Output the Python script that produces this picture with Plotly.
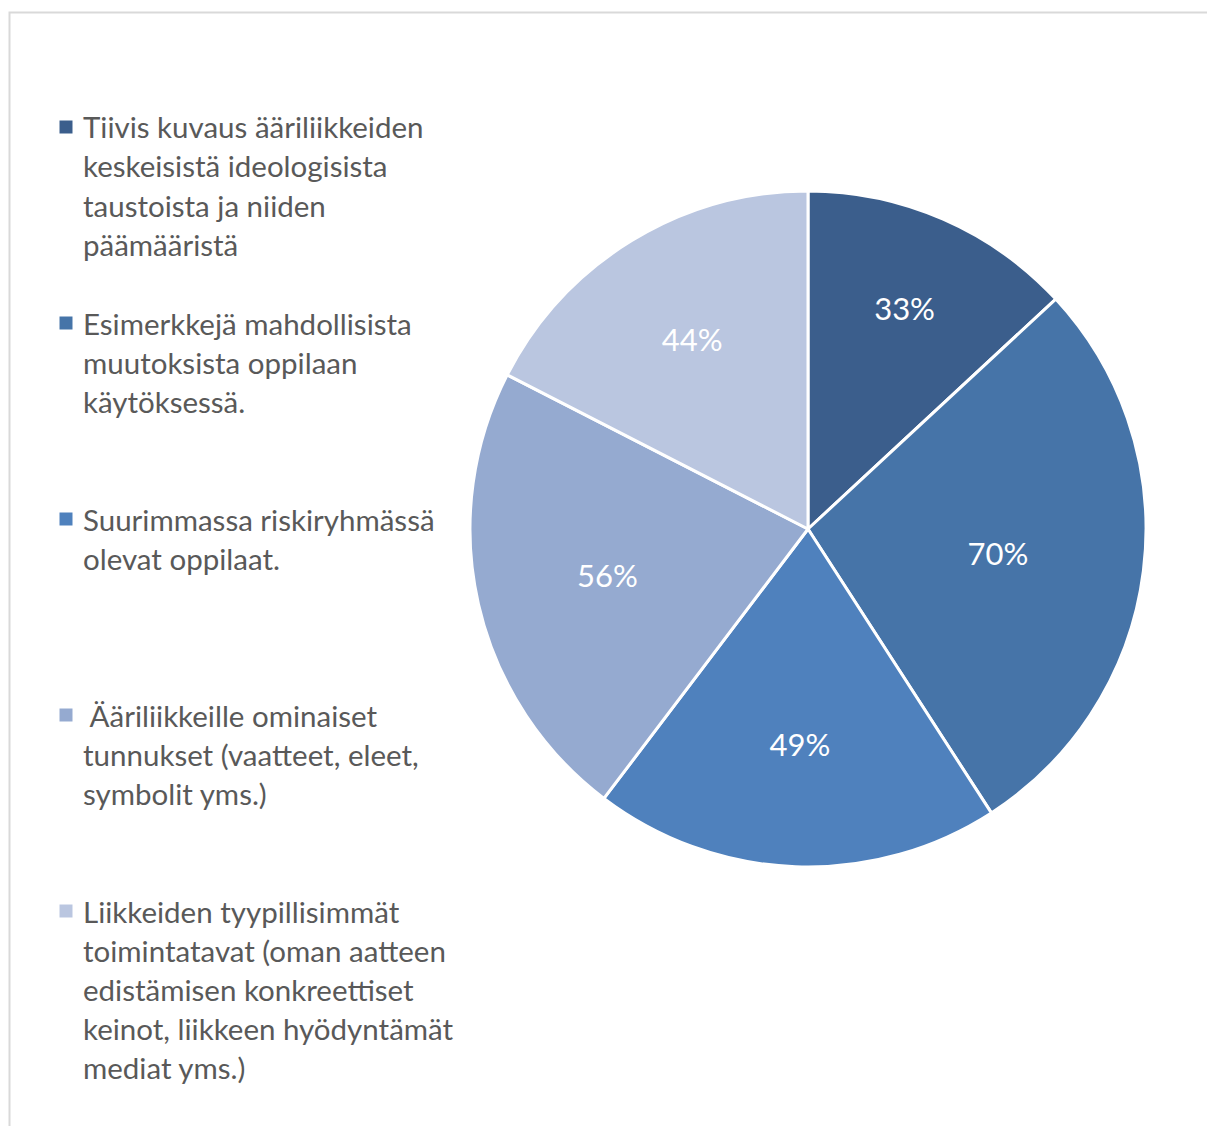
import plotly.graph_objects as go

# Chart data
categories = [
    "Tiivis kuvaus ääriliikkeiden<br>keskeisistä ideologisista<br>taustoista ja niiden<br>päämääristä",
    "Esimerkkejä mahdollisista<br>muutoksista oppilaan<br>käytöksessä.",
    "Suurimmassa riskiryhmässä<br>olevat oppilaat.",
    "\u00a0Ääriliikkeille ominaiset<br>tunnukset (vaatteet, eleet,<br>symbolit yms.)",
    "Liikkeiden tyypillisimmät<br>toimintatavat (oman aatteen<br>edistämisen konkreettiset<br>keinot, liikkeen hyödyntämät<br>mediat yms.)",
]
values = [33, 70, 49, 56, 44]
colors = ["#3B5E8C", "#4674A8", "#4F81BD", "#95AAD0", "#BAC6E0"]

W, H = 1207, 1126
FONT = "Lato"
TEXT_COLOR = "#595959"

fig = go.Figure()

fig.add_trace(go.Pie(
    labels=[c.replace("<br>", " ") for c in categories],
    values=values,
    text=[f"{v}%" for v in values],
    textinfo="text",
    textposition="inside",
    insidetextorientation="horizontal",
    textfont=dict(family=FONT, size=31, color="white"),
    sort=False,
    direction="clockwise",
    rotation=0,
    marker=dict(colors=colors, line=dict(color="white", width=3)),
    domain=dict(x=[470 / W, 1146 / W], y=[1 - 867 / H, 1 - 191 / H]),
    hoverinfo="label+text",
    showlegend=False,
))

# Legend drawn by hand: items evenly spaced, 39px line spacing
shapes = []
annotations = []
item_top, item_step, line_step = 127, 196, 39
for i, (cat, col) in enumerate(zip(categories, colors)):
    y0 = item_top + i * item_step
    shapes.append(dict(
        type="rect", xref="paper", yref="paper",
        x0=59.5 / W, x1=72.5 / W,
        y0=1 - (y0 + 6.5) / H, y1=1 - (y0 - 6.5) / H,
        fillcolor=col, line=dict(width=0),
    ))
    for k, line in enumerate(cat.split("<br>")):
        annotations.append(dict(
            x=81 / W, y=1 - (y0 + k * line_step) / H,
            xref="paper", yref="paper",
            xanchor="left", yanchor="middle",
            text=line, showarrow=False,
            font=dict(family=FONT, size=29.5, color=TEXT_COLOR),
        ))

# chart border (cut off at right and bottom)
shapes.append(dict(
    type="rect", xref="paper", yref="paper",
    x0=9.5 / W, x1=1.02, y0=-0.02, y1=1 - 12.5 / H,
    line=dict(color="#D9D9D9", width=2), layer="below",
))

fig.update_layout(
    width=W, height=H,
    margin=dict(l=0, r=0, t=0, b=0),
    paper_bgcolor="white",
    plot_bgcolor="white",
    shapes=shapes,
    annotations=annotations,
    font=dict(family=FONT, color=TEXT_COLOR),
)

fig.write_html(
    "out.html",
    config={"displayModeBar": False},
    post_script="document.body.style.margin='0';document.body.style.overflow='hidden';",
)
